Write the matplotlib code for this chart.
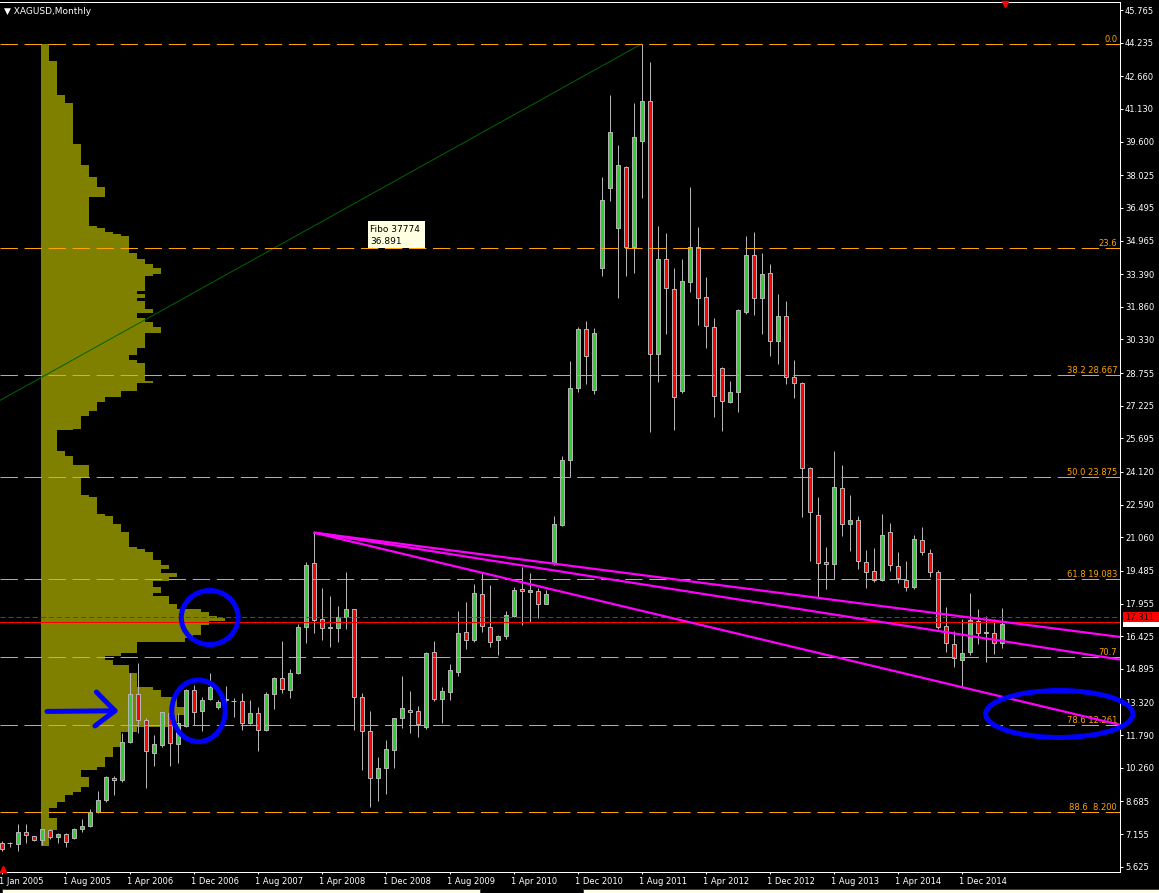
import matplotlib
matplotlib.use('Agg')
from matplotlib import pyplot as plt, transforms
from matplotlib.patches import Ellipse, Rectangle

plt.rcParams['font.family'] = ['DejaVu Sans']
plt.rcParams['lines.scale_dashes'] = False

W, H = 1159, 893

# XAGUSD monthly candles, bar index 0 = Jan 2005
opens = [6.75, 6.72, 6.67, 7.24, 7.05, 6.86, 7.35, 7.00, 7.14, 6.95,
         7.38, 7.52, 8.17, 8.73, 9.77, 9.67, 11.45, 13.70, 12.48, 10.94,
         11.31, 12.81, 11.36, 12.20, 13.89, 12.90, 13.47, 13.09, 13.42, 13.37,
         13.37, 12.34, 12.81, 12.01, 13.70, 14.45, 13.89, 14.72, 16.84, 19.84,
         17.22, 16.79, 16.79, 17.34, 17.68, 13.56, 11.97, 9.77, 10.24, 11.09,
         12.58, 12.95, 12.90, 12.19, 15.67, 13.50, 13.83, 14.76, 16.61, 16.23,
         18.39, 16.84, 16.23, 16.42, 17.39, 18.62, 18.48, 18.53, 17.92, 19.87,
         21.64, 24.66, 28.04, 30.80, 27.98, 33.66, 37.44, 35.53, 38.42, 34.65,
         39.61, 41.52, 29.63, 34.11, 32.71, 27.93, 33.04, 34.65, 32.30, 30.93,
         28.98, 27.41, 27.88, 31.63, 34.27, 32.26, 33.43, 30.27, 31.41, 28.55,
         28.27, 24.29, 22.09, 19.90, 19.79, 23.35, 21.67, 21.85, 19.89, 19.46,
         19.07, 21.29, 19.70, 19.07, 18.75, 20.92, 20.31, 19.42, 16.92, 16.04,
         15.31, 15.67, 17.15, 16.59, 16.56, 16.12]
highs = [6.81, 6.77, 7.63, 7.63, 7.08, 7.41, 7.38, 7.19, 7.19, 7.42,
         7.85, 8.31, 9.16, 9.87, 9.87, 11.87, 14.68, 15.15, 12.58, 11.80,
         12.86, 12.81, 12.81, 13.94, 14.12, 13.56, 14.68, 13.44, 14.09, 13.51,
         13.75, 13.44, 13.12, 13.79, 14.50, 16.18, 14.90, 17.00, 19.89, 21.28,
         18.67, 18.31, 17.84, 19.45, 17.72, 13.78, 12.92, 10.75, 11.56, 12.58,
         14.56, 13.86, 13.16, 15.70, 16.20, 14.03, 15.12, 17.61, 18.03, 18.87,
         19.37, 18.82, 16.48, 17.61, 18.73, 19.68, 19.40, 18.67, 18.59, 22.06,
         24.87, 29.32, 30.93, 31.19, 30.85, 37.96, 41.78, 39.44, 38.47, 41.39,
         44.18, 43.33, 35.64, 35.30, 33.66, 34.08, 37.49, 35.61, 33.27, 31.32,
         29.05, 28.38, 31.74, 35.18, 35.36, 34.36, 33.86, 32.46, 32.13, 29.37,
         28.32, 24.37, 22.95, 20.59, 25.10, 24.43, 23.03, 22.06, 20.46, 20.54,
         22.13, 21.71, 20.36, 19.95, 21.15, 21.54, 20.50, 19.53, 17.81, 16.67,
         17.25, 18.43, 17.68, 17.37, 17.22, 17.73]
lows = [6.38, 6.53, 6.38, 6.72, 6.85, 6.64, 6.91, 6.72, 6.56, 6.91,
        7.27, 7.49, 8.12, 8.64, 8.97, 9.58, 11.41, 11.87, 9.33, 10.36,
        11.22, 10.36, 10.50, 12.15, 12.25, 11.97, 13.42, 13.00, 13.30, 12.62,
        12.03, 12.30, 11.03, 11.97, 13.00, 13.75, 13.55, 14.65, 16.09, 16.59,
        16.25, 15.94, 16.17, 16.75, 12.03, 10.16, 8.41, 8.72, 9.03, 10.27,
        12.11, 11.87, 11.72, 12.09, 13.41, 12.37, 13.44, 14.56, 15.83, 16.17,
        16.64, 15.94, 15.55, 16.28, 17.31, 16.95, 17.11, 17.26, 17.92, 19.76,
        21.59, 23.90, 27.88, 28.24, 27.77, 33.32, 36.83, 32.26, 33.32, 33.43,
        36.97, 26.01, 28.35, 30.58, 26.09, 27.84, 32.57, 31.01, 29.91, 26.71,
        26.06, 27.33, 26.95, 31.52, 31.47, 30.58, 29.55, 29.18, 28.22, 27.60,
        21.99, 19.96, 18.20, 18.65, 19.09, 21.14, 20.43, 19.56, 18.67, 18.95,
        19.03, 19.50, 18.90, 18.56, 18.62, 20.22, 19.21, 16.76, 15.67, 15.00,
        14.00, 15.55, 16.06, 15.23, 15.58, 15.86]
closes = [6.44, 6.72, 7.24, 7.10, 6.86, 7.38, 7.00, 7.14, 6.77, 7.38,
          7.52, 8.17, 8.73, 9.81, 9.67, 11.45, 13.70, 12.48, 11.03, 11.36,
          12.86, 11.40, 12.34, 13.89, 12.86, 13.42, 14.03, 13.33, 13.50, 13.37,
          12.34, 12.81, 12.01, 13.70, 14.45, 13.94, 14.69, 16.84, 19.75, 17.18,
          16.79, 16.80, 17.34, 17.68, 13.56, 11.97, 9.77, 10.24, 11.12, 12.58,
          13.05, 12.86, 12.31, 15.62, 13.50, 13.84, 14.83, 16.56, 16.23, 18.43,
          16.89, 16.14, 16.42, 17.40, 18.57, 18.53, 18.57, 17.92, 18.39, 21.67,
          24.66, 28.04, 30.80, 29.54, 30.62, 36.86, 40.03, 38.49, 34.65, 39.83,
          41.52, 29.63, 34.11, 32.72, 27.62, 33.08, 34.65, 32.26, 30.97, 27.66,
          27.43, 27.88, 31.69, 34.27, 32.26, 33.38, 30.27, 31.41, 28.55, 28.27,
          24.29, 22.23, 19.87, 19.79, 23.43, 21.67, 21.85, 19.93, 19.42, 19.07,
          21.15, 19.75, 19.14, 18.75, 20.96, 20.36, 19.42, 16.87, 16.09, 15.39,
          15.62, 17.18, 16.56, 16.60, 16.12, 17.00]

# right price scale
price_ticks = [45.765, 44.235, 42.660, 41.130, 39.600, 38.025, 36.495, 34.965,
               33.390, 31.860, 30.330, 28.755, 27.225, 25.695, 24.120, 22.590,
               21.060, 19.485, 17.955, 16.425, 14.895, 13.320, 11.790, 10.260,
               8.685, 7.155, 5.625]

# time scale, one label every 8 bars
date_labels = ['1 Jan 2005', '1 Aug 2005', '1 Apr 2006', '1 Dec 2006', '1 Aug 2007',
               '1 Apr 2008', '1 Dec 2008', '1 Aug 2009', '1 Apr 2010', '1 Dec 2010',
               '1 Aug 2011', '1 Apr 2012', '1 Dec 2012', '1 Aug 2013', '1 Apr 2014',
               '1 Dec 2014']

# volume profile: price bin edges (top -> bottom) and bar lengths
vp_edges = [44.165, 43.394, 41.780, 41.421, 39.503, 38.516, 37.960, 37.494, 37.010, 35.648,
            35.558, 35.361, 35.289, 35.181, 34.392, 34.106, 33.854, 33.675, 33.406, 33.299,
            32.581, 32.456, 32.277, 32.133, 31.775, 31.559, 31.344, 31.129, 30.914, 30.627,
            29.946, 29.623, 29.372, 29.228, 28.368, 28.296, 27.937, 27.651, 27.399, 26.987,
            26.754, 26.126, 26.072, 25.104, 24.889, 24.441, 23.885, 23.042, 22.953, 22.146,
            22.056, 21.697, 21.303, 20.621, 20.532, 20.352, 19.994, 19.761, 19.581, 19.366,
            19.222, 19.007, 18.721, 18.470, 18.290, 17.932, 17.717, 17.573, 17.394, 17.262,
            17.153, 16.950, 16.481, 16.325, 16.169, 15.622, 15.497, 15.310, 15.076, 14.716,
            14.060, 13.904, 13.592, 13.123, 12.733, 12.186, 11.952, 11.249, 10.781, 10.312,
            10.156, 9.844, 9.375, 9.141, 8.985, 8.672, 8.360, 7.891, 7.345, 6.595]
vp_len = [8, 16, 24, 32, 40, 48, 56, 64, 48, 56,
          64, 72, 80, 88, 96, 104, 112, 120, 112, 104,
          96, 104, 96, 104, 112, 96, 104, 112, 120, 104,
          96, 88, 96, 104, 112, 96, 80, 64, 56, 48,
          40, 32, 16, 24, 32, 48, 40, 48, 56, 64,
          72, 80, 88, 96, 104, 112, 120, 128, 120, 136,
          128, 112, 120, 112, 128, 136, 160, 168, 176, 184,
          168, 160, 152, 144, 96, 80, 64, 72, 88, 96,
          112, 120, 136, 144, 136, 96, 80, 72, 64, 56,
          40, 48, 40, 32, 24, 16, 8, 16, 8]

# fibonacci from the 2011 top
fib_high, fib_low = 44.18, 3.57
fib_high_bar, fib_low_bar = 80, -115
fib_levels = [0.0, 23.6, 38.2, 50.0, 61.8, 70.7, 78.6, 88.6]
fib_texts = ['0.0', '23.6', '38.2 28.667', '50.0 23.875', '61.8 19.083', '70.7',
             '78.6 12.261', '88.6  8.200']

# trend lines from the 2008 top
trend_start_bar, trend_start_price = 39, 21.28
trend_end_bar = 139.8
trend_end_prices = [16.39, 15.33, 12.27]

ask_price = 17.311
bid_price = 17.08

BULL = '#32CD32'
BEAR = '#FF0000'
EDGE = '#B4B4B4'
FIB = '#FFA500'
PX = 0.72  # one pixel in points

fig = plt.figure(figsize=(W / 100, H / 100), dpi=100, facecolor='black')
ax = fig.add_axes([0, 21 / H, 1120 / W, 870 / H])
ax.set_facecolor('black')
ax.set_xlim(-0.2125, 139.79)
ax.set_ylim(5.377, 46.140)

# volume profile
for k in range(len(vp_len)):
    ax.barh(vp_edges[k + 1], vp_len[k] / 8, height=vp_edges[k] - vp_edges[k + 1],
            left=4.91, align='edge', color='#808000', linewidth=0, zorder=1)

# fibo diagonal
ax.plot([fib_low_bar, fib_high_bar], [fib_low, fib_high], color='#006400', lw=PX, zorder=2)

# candles
for i in range(len(opens)):
    o, hi, lo, c = opens[i], highs[i], lows[i], closes[i]
    ax.vlines(i, lo, hi, color=EDGE, lw=PX, zorder=3)
    if abs(c - o) < 0.005:
        ax.hlines(o, i - 0.3, i + 0.3, color=EDGE, lw=PX, zorder=3.5)
        continue
    col = BULL if c > o else BEAR
    ax.bar(i, max(abs(c - o), 0.05), bottom=min(o, c), width=0.5, color=col,
           edgecolor=EDGE, linewidth=PX, zorder=3.5)

# fibo levels
blend = transforms.blended_transform_factory(ax.transAxes, ax.transData)
for lvl, txt in zip(fib_levels, fib_texts):
    p = fib_high - (fib_high - fib_low) * lvl / 100
    ax.axhline(p, color=FIB, lw=PX, linestyle=(0, (12.5, 4.8)), zorder=4)
    ax.text(0.9975, p, txt, transform=blend, ha='right', va='bottom', color=FIB,
            fontsize=6, zorder=4)

# ask / bid
ax.axhline(ask_price, color='red', lw=PX, linestyle=(0, (3.6, 2.2)), zorder=4)
ax.axhline(bid_price, color='red', lw=PX, zorder=4)

# trend lines
for pe in trend_end_prices:
    ax.plot([trend_start_bar, trend_end_bar], [trend_start_price, pe], color='#FF00FF',
            lw=1.6, zorder=5, solid_capstyle='butt')

# hand drawn marks
for (cx, cy, w, h) in [(26.0, 17.30, 7.1, 2.53), (24.6, 12.93, 6.67, 2.89),
                       (132.2, 12.78, 18.4, 2.2)]:
    ax.add_patch(Ellipse((cx, cy), w, h, fill=False, edgecolor='#0000FF', lw=3.6,
                         zorder=6, clip_on=False))
ax.plot([5.66, 14.16], [12.90, 12.93], color='#0000FF', lw=3.6, zorder=6,
        solid_capstyle='round')
ax.plot([11.84, 14.16, 11.66], [13.81, 12.93, 12.22], color='#0000FF', lw=3.6, zorder=6,
        solid_capstyle='round', solid_joinstyle='round')

# axes
for side in ['top', 'right', 'bottom']:
    ax.spines[side].set_color('white')
    ax.spines[side].set_linewidth(PX)
ax.spines['left'].set_visible(False)
ax.yaxis.tick_right()
ax.set_yticks(price_ticks)
ax.set_yticklabels(['%.3f' % v for v in price_ticks])
ax.tick_params(axis='y', direction='out', length=3 * PX, width=PX, colors='white',
               labelsize=6, pad=1.5)
ax.set_xticks([8 * k for k in range(len(date_labels))])
ax.set_xticklabels(date_labels, ha='left')
ax.tick_params(axis='x', direction='out', length=2.5 * PX, width=PX, colors='white',
               labelsize=6, pad=2)
shift = transforms.ScaledTranslation(-3 / 100, 0, fig.dpi_scale_trans)
for lbl in ax.get_xticklabels():
    lbl.set_transform(lbl.get_transform() + shift)


def fig_rect(x0, y0, x1, y1, **kw):
    fig.add_artist(Rectangle((x0 / W, 1 - y1 / H), (x1 - x0) / W, (y1 - y0) / H,
                             transform=fig.transFigure, **kw))


# price labels on the scale
fig_rect(1122.7, 621.7, 1159, 627, facecolor='white', edgecolor='none')
fig_rect(1122.7, 612.3, 1159, 621.7, facecolor='red', edgecolor='none')
fig.text(1125 / W, 1 - 617.5 / H, '%.3f' % ask_price, color='black', fontsize=6, va='center')

# title and markers
fig.text(4 / W, 1 - 11 / H, '\u25bc XAGUSD,Monthly', color='white', fontsize=6.5, va='center')
fig.add_artist(plt.Line2D([1005 / W], [1 - 4 / H], marker='v', markersize=5, color='red',
                          transform=fig.transFigure))
fig.add_artist(plt.Line2D([3 / W], [1 - 869 / H], marker='^', markersize=4, color='red',
                          transform=fig.transFigure))

# tooltip
fig_rect(368, 221, 425, 248, facecolor='#FFFFE1', edgecolor='none')
fig.text(370 / W, 1 - 229 / H, 'Fibo 37774', color='black', fontsize=6.5, va='center')
fig.text(370 / W, 1 - 241 / H, '36.891', color='black', fontsize=6.5, va='center')

# window tabs at the bottom
fig_rect(2, 889, 480, 894, facecolor='#FFFFE1', edgecolor='#404040', linewidth=PX)
fig_rect(583, 889, 1159, 894, facecolor='#FFFFE1', edgecolor='#404040', linewidth=PX)

plt.savefig('out.png', dpi=100, facecolor='black')
